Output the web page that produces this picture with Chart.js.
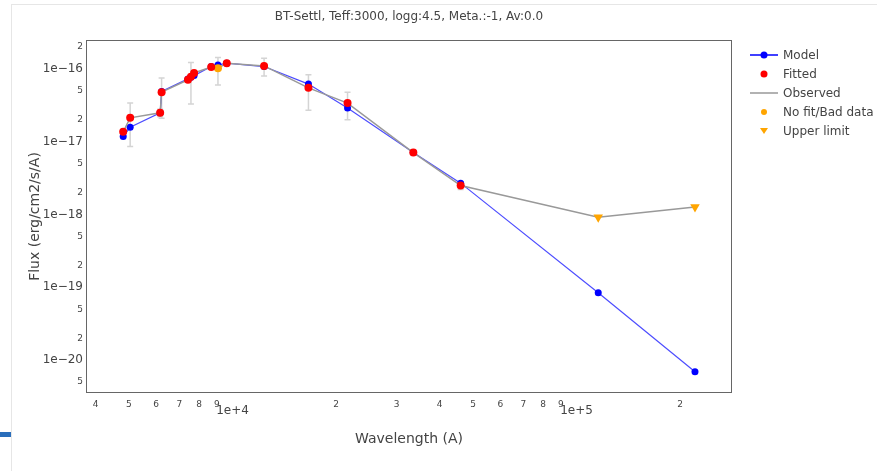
<!DOCTYPE html>
<html>
<head>
<meta charset="utf-8">
<script src="https://cdn.jsdelivr.net/npm/chart.js@4.4.0/dist/chart.umd.min.js"></script>
<style>
body{margin:0;background:#fff;font-family:"DejaVu Sans",Verdana,sans-serif;color:#444;}
#wrap{position:relative;width:877px;height:471px;overflow:hidden;background:#fff;}
#c{position:absolute;left:0;top:0;}
#title{position:absolute;left:86px;width:646px;top:9px;text-align:center;font-size:12px;}
#legend{position:absolute;left:750px;top:45px;font-size:12px;}
.row{height:19px;display:flex;align-items:center;}
.row svg{width:28px;height:12px;margin-right:5px;}
#topline{position:absolute;left:11px;right:0;top:4px;height:1px;background:#e6e6e6;}
#leftline{position:absolute;left:11px;top:4px;bottom:0;width:1px;background:#e6e6e6;}
#tab{position:absolute;left:0;top:432px;width:11px;height:5px;background:#2a6ebb;}
</style>
</head>
<body>
<div id="wrap">
  <canvas id="c" width="877" height="471"></canvas>
  <div id="topline"></div><div id="leftline"></div><div id="tab"></div>
  <div id="title">BT-Settl, Teff:3000, logg:4.5, Meta.:-1, Av:0.0</div>
  <div id="legend">
    <div class="row"><svg viewBox="0 0 28 12"><line x1="0" y1="6" x2="28" y2="6" stroke="#0000ff" stroke-width="1.5"/><circle cx="14" cy="6" r="3.5" fill="#0000ff"/></svg>Model</div>
    <div class="row"><svg viewBox="0 0 28 12"><circle cx="14" cy="6" r="3.5" fill="#ff0000"/></svg>Fitted</div>
    <div class="row"><svg viewBox="0 0 28 12"><line x1="0" y1="6" x2="28" y2="6" stroke="#999" stroke-width="1.5"/></svg>Observed</div>
    <div class="row"><svg viewBox="0 0 28 12"><circle cx="14" cy="6" r="3" fill="#ffa500"/></svg>No fit/Bad data</div>
    <div class="row"><svg viewBox="0 0 28 12"><polygon points="10,3 18,3 14,9" fill="#ffa500"/></svg>Upper limit</div>
  </div>
</div>
<script>
// model SED
var modelWave = [4810,5040,6160,6220,7420,7570,7730,8670,9070,9620,12350,16620,21590,33530,46030,115600,220900];
var modelFlux = [1.18e-17,1.58e-17,2.5e-17,4.9e-17,7.3e-17,7.7e-17,8.1e-17,1.08e-16,1.13e-16,1.2e-16,1.08e-16,6.2e-17,2.9e-17,7.1e-18,2.7e-18,8.4e-20,6.9e-21];

// fitted observations
var obsWave = [4810,5040,6160,6220,7420,7570,7730,8670,9620,12350,16620,21590,33530,46030];
var obsFlux = [1.37e-17,2.13e-17,2.5e-17,4.8e-17,7.1e-17,7.8e-17,8.8e-17,1.06e-16,1.2e-16,1.1e-16,5.5e-17,3.4e-17,7.1e-18,2.5e-18];
var obsErr  = [0,1.27e-17,0.3e-17,2.7e-17,0,4.5e-17,0,0,0,3e-17,2.8e-17,1.4e-17,0,0.3e-18];

// bad / no fit
var badWave = [9070];
var badFlux = [1.02e-16];
var badErr  = [4.2e-17];

// upper limits
var limWave = [115600,220900];
var limFlux = [9.2e-19,1.27e-18];

// ticks
var xTicks = [4000,5000,6000,7000,8000,9000,10000,20000,30000,40000,50000,60000,70000,80000,90000,100000,200000];
var yTicks = [5e-21,1e-20,2e-20,5e-20,1e-19,2e-19,5e-19,1e-18,2e-18,5e-18,1e-17,2e-17,5e-17,1e-16,2e-16];

function pts(xs, ys){ return xs.map(function(x,i){ return {x:x, y:ys[i]}; }); }
function expo(v){ return Math.floor(Math.log10(v) + 1e-9); }
function mant(v){ return Math.round(v / Math.pow(10, expo(v))); }
function isMajor(v){ return mant(v) === 1; }

// observed line joins every observed point, sorted
var allObs = pts(obsWave, obsFlux).concat(pts(badWave, badFlux), pts(limWave, limFlux));
allObs.sort(function(a,b){ return a.x - b.x; });

var frameAndErrors = {
  id: 'frameAndErrors',
  beforeDatasetsDraw: function(chart){
    var ctx = chart.ctx, xs = chart.scales.x, ys = chart.scales.y;
    ctx.save();
    ctx.strokeStyle = '#d4d4d4';
    ctx.lineWidth = 1.5;
    function bars(wv, fl, er){
      wv.forEach(function(w,i){
        if (!er[i]) return;
        var px = xs.getPixelForValue(w);
        var y1 = ys.getPixelForValue(fl[i] + er[i]);
        var y2 = ys.getPixelForValue(Math.max(fl[i] - er[i], 1e-30));
        ctx.beginPath();
        ctx.moveTo(px, y1); ctx.lineTo(px, y2);
        ctx.moveTo(px-3, y1); ctx.lineTo(px+3, y1);
        ctx.moveTo(px-3, y2); ctx.lineTo(px+3, y2);
        ctx.stroke();
      });
    }
    bars(obsWave, obsFlux, obsErr);
    bars(badWave, badFlux, badErr);
    ctx.restore();
  },
  afterDraw: function(chart){
    var a = chart.chartArea, ctx = chart.ctx;
    ctx.save();
    ctx.strokeStyle = '#666';
    ctx.lineWidth = 1;
    ctx.strokeRect(a.left + 0.5, a.top + 0.5, a.right - a.left - 1, a.bottom - a.top - 1);
    ctx.restore();
  }
};

new Chart(document.getElementById('c'), {
  type: 'scatter',
  data: {
    datasets: [
      { label: 'Fitted', data: pts(obsWave, obsFlux), backgroundColor: '#ff0000', borderColor: '#ff0000',
        pointRadius: 4, pointBorderWidth: 0, showLine: false, order: 0 },
      { label: 'No fit/Bad data', data: pts(badWave, badFlux), backgroundColor: '#ffa500', borderColor: '#ffa500',
        pointRadius: 4, pointBorderWidth: 0, showLine: false, order: 1 },
      { label: 'Upper limit', data: pts(limWave, limFlux), backgroundColor: '#ffa500', borderColor: '#ffa500',
        pointStyle: 'triangle', rotation: 180, pointRadius: 5.5, pointBorderWidth: 0, showLine: false, order: 1 },
      { label: 'Model', data: pts(modelWave, modelFlux), backgroundColor: '#0000ff', borderColor: 'rgba(0,0,255,0.7)',
        pointRadius: 3.5, pointBorderWidth: 0, showLine: true, borderWidth: 1.2, order: 3 },
      { label: 'Observed', data: allObs, borderColor: '#999', backgroundColor: '#999',
        pointRadius: 0, showLine: true, borderWidth: 1.5, order: 2 }
    ]
  },
  options: {
    responsive: false,
    animation: false,
    layout: { padding: { top: 40, right: 145, left: 0, bottom: 0 } },
    plugins: { legend: { display: false }, tooltip: { enabled: false }, title: { display: false } },
    scales: {
      x: {
        type: 'logarithmic', min: 3750, max: 283000,
        grid: { display: false, drawTicks: false },
        border: { display: false },
        afterBuildTicks: function(s){ s.ticks = xTicks.map(function(v){ return {value: v}; }); },
        afterFit: function(s){ s.height = 78; },
        ticks: {
          autoSkip: false, maxRotation: 0, padding: 6, color: '#444',
          font: function(c){
            var big = c.tick && isMajor(c.tick.value);
            return { family: 'DejaVu Sans', size: big ? 12 : 9, lineHeight: big ? 1.9 : 1.2 };
          },
          callback: function(v){ return isMajor(v) ? '1e+' + expo(v) : String(mant(v)); }
        },
        title: { display: true, text: 'Wavelength (A)', color: '#444',
          font: { family: 'DejaVu Sans', size: 14 }, padding: { top: 0, bottom: 23 } }
      },
      y: {
        type: 'logarithmic', min: 3.53e-21, max: 2.5e-16,
        grid: { display: false, drawTicks: false },
        border: { display: false },
        afterBuildTicks: function(s){ s.ticks = yTicks.map(function(v){ return {value: v}; }); },
        afterFit: function(s){ s.width = 86; },
        ticks: {
          autoSkip: false, padding: 3, color: '#444',
          font: function(c){ return { family: 'DejaVu Sans', size: (c.tick && isMajor(c.tick.value)) ? 12 : 9 }; },
          callback: function(v){ return isMajor(v) ? '1e\u2212' + Math.abs(expo(v)) : String(mant(v)); }
        },
        title: { display: true, text: 'Flux (erg/cm2/s/A)', color: '#444',
          font: { family: 'DejaVu Sans', size: 14 }, padding: { top: 27, bottom: 0 } }
      }
    }
  },
  plugins: [frameAndErrors]
});
</script>
</body>
</html>
